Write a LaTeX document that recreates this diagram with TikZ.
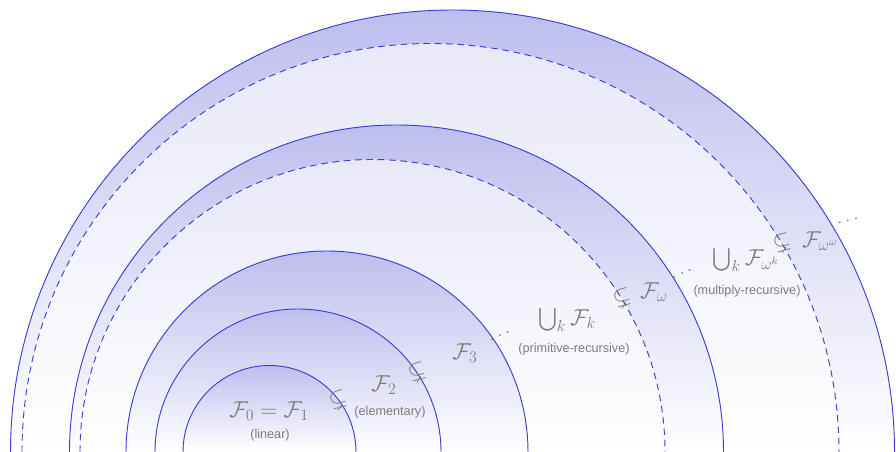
\documentclass[tikz,border=0pt]{standalone}
\usepackage{amssymb}
\usepackage[no-math]{fontspec}
\newfontfamily\labelfont{Liberation Sans}
\definecolor{bandtop}{RGB}{190,190,238}
\definecolor{innertop}{RGB}{232,232,248}
\definecolor{arcline}{RGB}{60,60,215}
\definecolor{labelgray}{RGB}{125,125,125}

\begin{document}
\begin{tikzpicture}[x=0.75pt, y=0.75pt, line width=0.7pt,
  solidarc/.style={draw=arcline},
  dasharc/.style={draw=arcline, dash pattern=on 5pt off 3.5pt},
  cls/.style={text=labelgray, font=\fontsize{17}{20}\selectfont},
  note/.style={text=labelgray, font=\labelfont\fontsize{9.5}{11}\selectfont},
  dots/.style={text=labelgray, font=\fontsize{15}{18}\selectfont, inner sep=0pt}]
  \useasboundingbox (0,0) rectangle (896,452);
  \clip (0,0) rectangle (896,452);
  % 半圆层
  \foreach \cx/\r/\tc/\ls in {452.5/442/bandtop/solidarc, 430.5/408.5/innertop/dasharc,
      396.5/327/bandtop/solidarc, 372.5/292.5/innertop/dasharc,
      327/201/bandtop/solidarc, 298/143/bandtop/solidarc, 269.5/86.5/bandtop/solidarc}{
    \shade[top color=\tc, middle color=\tc!40!white, bottom color=white]
      ({\cx-\r},0) arc[start angle=180, end angle=0, radius=\r] -- cycle;
    \draw[\ls] ({\cx-\r},0) arc[start angle=180, end angle=0, radius=\r];
  }
  \node[cls] (f0) at (269,41) {$\mathcal{F}_0=\mathcal{F}_1$};
  \node[note] (lin) at (270,17) {(linear)};
  \node[cls, rotate=15] (s1) at (338,52) {$\subsetneq$};
  \node[cls] (f2) at (384,67) {$\mathcal{F}_2$};
  \node[note] (elem) at (390,40) {(elementary)};
  \node[cls, rotate=15] (s2) at (417,80) {$\subsetneq$};
  \node[cls] (f3) at (465,99) {$\mathcal{F}_3$};
  \node[dots, rotate=23] (d1) at (500,116) {$\ldots$};
  \node[cls] (fk) at (567,132) {$\bigcup_k\mathcal{F}_k$};
  \node[note] (prim) at (574,103) {(primitive-recursive)};
  \node[cls, rotate=15] (s3) at (622,154) {$\subsetneq$};
  \node[cls] (fw) at (654,160) {$\mathcal{F}_\omega$};
  \node[dots, rotate=25] (d2) at (682,178) {$\ldots$};
  \node[cls] (fwk) at (746,192) {$\bigcup_k\mathcal{F}_{\omega^k}$};
  \node[note] (mult) at (747,161) {(multiply-recursive)};
  \node[cls, rotate=15] (s4) at (782,209) {$\subsetneq$};
  \node[cls] (fww) at (820,211) {$\mathcal{F}_{\omega^\omega}$};
  \node[dots, rotate=16] (d3) at (848,231) {$\ldots$};
\end{tikzpicture}
\end{document}
